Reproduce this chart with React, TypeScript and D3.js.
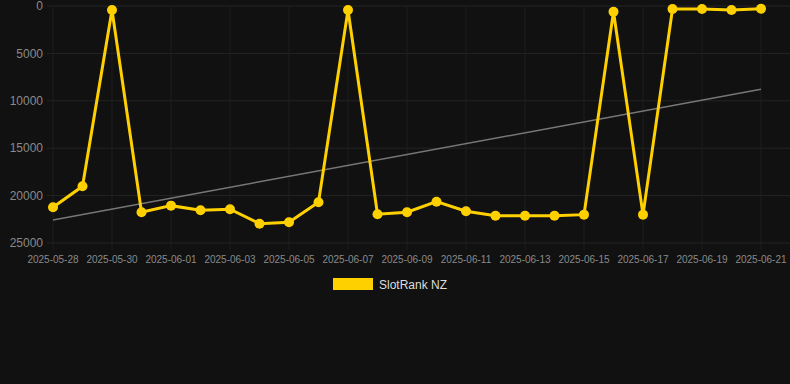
import React from "react";
import * as d3 from "d3";

const dates = [
  "2025-05-28","2025-05-29","2025-05-30","2025-05-31","2025-06-01","2025-06-02","2025-06-03",
  "2025-06-04","2025-06-05","2025-06-06","2025-06-07","2025-06-08","2025-06-09","2025-06-10",
  "2025-06-11","2025-06-12","2025-06-13","2025-06-14","2025-06-15","2025-06-16","2025-06-17",
  "2025-06-18","2025-06-19","2025-06-20","2025-06-21",
];
const ranks = [
  21230, 19020, 420, 21760, 21060, 21550, 21440,
  22960, 22820, 20700, 420, 21970, 21760, 20640,
  21650, 22120, 22120, 22120, 22010, 600, 22010,
  320, 320, 420, 290,
];
const yTicks = [0, 5000, 10000, 15000, 20000, 25000];
const seriesName = "SlotRank NZ";

const W = 790, H = 384;
const LINE = "#FFD000";

export default function App() {
  const parse = d3.timeParse("%Y-%m-%d");
  const xs = dates.map((d) => parse(d) as Date);
  const x = d3.scaleTime().domain([xs[0], xs[xs.length - 1]]).range([53, 761]);
  const y = d3.scaleLinear().domain([0, 25000]).range([6, 243]);

  // linear regression trend
  const n = ranks.length;
  const idx = d3.range(n);
  const mx = d3.mean(idx) as number;
  const my = d3.mean(ranks) as number;
  const sxy = d3.sum(idx, (i) => (i - mx) * (ranks[i] - my));
  const sxx = d3.sum(idx, (i) => (i - mx) * (i - mx));
  const slope = sxy / sxx;
  const icpt = my - slope * mx;
  const trend = [0, n - 1].map((i) => ({ d: xs[i], v: icpt + slope * i }));

  const line = d3
    .line<number>()
    .x((_, i) => x(xs[i]))
    .y((v) => y(v));
  const tline = d3
    .line<{ d: Date; v: number }>()
    .x((p) => x(p.d))
    .y((p) => y(p.v));

  const xTickDates = xs.filter((_, i) => i % 2 === 0);
  const fmt = d3.timeFormat("%Y-%m-%d");

  return (
    <svg
      width={W}
      height={H}
      style={{ position: "absolute", left: 0, top: 0, background: "#111111", fontFamily: "Arial, 'Liberation Sans', sans-serif" }}
    >
      <rect x={0} y={0} width={W} height={H} fill="#111111" />
      {/* horizontal grid */}
      {yTicks.map((t) => (
        <line key={"h" + t} x1={47} x2={790} y1={y(t)} y2={y(t)} stroke="#242424" strokeWidth={1} />
      ))}
      {/* vertical grid */}
      {xTickDates.map((d) => (
        <line key={"v" + fmt(d)} x1={x(d)} x2={x(d)} y1={6} y2={250} stroke="#1e1e1e" strokeWidth={1} />
      ))}
      {/* y labels */}
      {yTicks.map((t) => (
        <text key={"yl" + t} x={43} y={y(t)} dy="0.35em" textAnchor="end" fontSize={12} fill="#8a8a8a">
          {t}
        </text>
      ))}
      {/* x labels */}
      {xTickDates.map((d) => (
        <text key={"xl" + fmt(d)} x={x(d)} y={263} textAnchor="middle" fontSize={10} fill="#8a8a8a">
          {fmt(d)}
        </text>
      ))}
      {/* trend */}
      <path d={tline(trend) || ""} fill="none" stroke="#777777" strokeWidth={1.5} />
      {/* series */}
      <path d={line(ranks) || ""} fill="none" stroke={LINE} strokeWidth={3} strokeLinejoin="miter" />
      {ranks.map((v, i) => (
        <circle key={"c" + i} cx={x(xs[i])} cy={y(v)} r={5} fill={LINE} />
      ))}
      {/* legend */}
      <rect x={333} y={278} width={40} height={12} fill={LINE} />
      <text x={379} y={288.5} fontSize={12} fill="#dddddd">
        {seriesName}
      </text>
    </svg>
  );
}
